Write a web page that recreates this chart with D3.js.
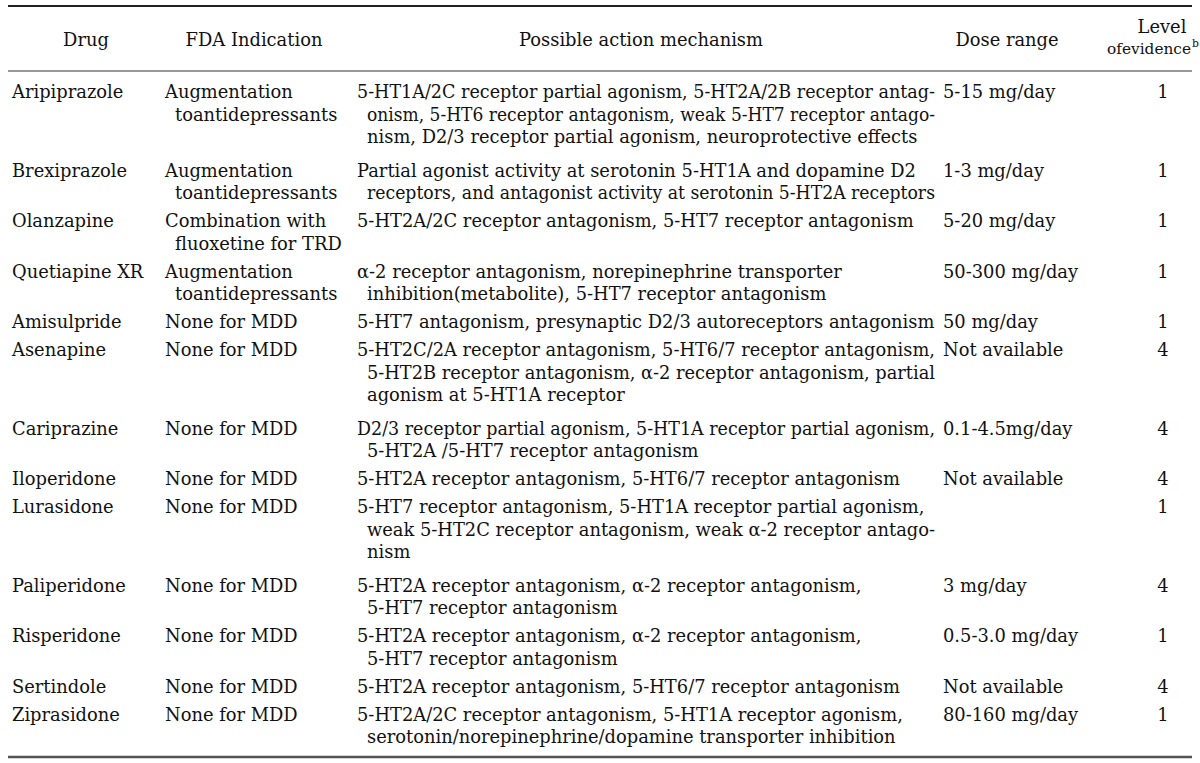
<!DOCTYPE html>
<html><head><meta charset="utf-8">
<script src="https://cdn.jsdelivr.net/npm/d3@7"></script>
<style>
html,body{margin:0;padding:0;background:#fff;}
svg text{font-family:"DejaVu Serif","Liberation Serif",serif;fill:#111;}
</style></head>
<body><svg id="c" width="1200" height="763"></svg>
<script>
const headers = ["Drug", "FDA Indication", "Possible action mechanism", "Dose range"];
const drugs = ["Aripiprazole","Brexiprazole","Olanzapine","Quetiapine XR","Amisulpride","Asenapine","Cariprazine","Iloperidone","Lurasidone","Paliperidone","Risperidone","Sertindole","Ziprasidone"];
const indications = [
  ["Augmentation","toantidepressants"],
  ["Augmentation","toantidepressants"],
  ["Combination with","fluoxetine for TRD"],
  ["Augmentation","toantidepressants"],
  ["None for MDD"],["None for MDD"],["None for MDD"],["None for MDD"],["None for MDD"],
  ["None for MDD"],["None for MDD"],["None for MDD"],["None for MDD"]
];
const mechanisms = [
  ["5-HT1A/2C receptor partial agonism, 5-HT2A/2B receptor antag-","onism, 5-HT6 receptor antagonism, weak 5-HT7 receptor antago-","nism, D2/3 receptor partial agonism, neuroprotective effects"],
  ["Partial agonist activity at serotonin 5-HT1A and dopamine D2","receptors, and antagonist activity at serotonin 5-HT2A receptors"],
  ["5-HT2A/2C receptor antagonism, 5-HT7 receptor antagonism"],
  ["\u03b1-2 receptor antagonism, norepinephrine transporter","inhibition(metabolite), 5-HT7 receptor antagonism"],
  ["5-HT7 antagonism, presynaptic D2/3 autoreceptors antagonism"],
  ["5-HT2C/2A receptor antagonism, 5-HT6/7 receptor antagonism,","5-HT2B receptor antagonism, \u03b1-2 receptor antagonism, partial","agonism at 5-HT1A receptor"],
  ["D2/3 receptor partial agonism, 5-HT1A receptor partial agonism,","5-HT2A /5-HT7 receptor antagonism"],
  ["5-HT2A receptor antagonism, 5-HT6/7 receptor antagonism"],
  ["5-HT7 receptor antagonism, 5-HT1A receptor partial agonism,","weak 5-HT2C receptor antagonism, weak \u03b1-2 receptor antago-","nism"],
  ["5-HT2A receptor antagonism, \u03b1-2 receptor antagonism,","5-HT7 receptor antagonism"],
  ["5-HT2A receptor antagonism, \u03b1-2 receptor antagonism,","5-HT7 receptor antagonism"],
  ["5-HT2A receptor antagonism, 5-HT6/7 receptor antagonism"],
  ["5-HT2A/2C receptor antagonism, 5-HT1A receptor agonism,","serotonin/norepinephrine/dopamine transporter inhibition"]
];
const doses = ["5-15 mg/day","1-3 mg/day","5-20 mg/day","50-300 mg/day","50 mg/day","Not available","0.1-4.5mg/day","Not available","","3 mg/day","0.5-3.0 mg/day","Not available","80-160 mg/day"];
const levels = [1,1,1,1,1,4,4,4,1,4,1,4,1];

const svg = d3.select("#c");

// font size calibrated so that a reference line spans the mechanism column width
const probe = svg.append("text").attr("font-size",16).text(mechanisms[4][0]);
const fs = 16 * 578 / probe.node().getComputedTextLength();
probe.remove();

// column layout
const colX = d3.scaleOrdinal().domain(["drug","ind","mech","dose","level"]).range([12,165,357,943,1163]);
const colRight = d3.scaleOrdinal().domain(["drug","ind","mech","dose","level"]).range([155,345,935,1085,1195]);
const hdrX = d3.scaleOrdinal().domain(headers).range([86,254,641,1007]);
const indent = 10;

// vertical layout: line units -> px
const lineH = 22.5, rowPad = 5.5;
const rows = drugs.map((d,i)=>({
  i, drug:d, ind:indications[i], mech:mechanisms[i], dose:doses[i], level:levels[i],
  n: Math.max(indications[i].length, mechanisms[i].length)
}));
let acc = 92;
rows.forEach(r=>{ r.y = acc; acc += r.n*lineH + rowPad + (r.n>=3?5.5:0); });
const lineY = (r,k)=> r.y + k*lineH;

// keep a text inside its column: compress if it would overflow
function fit(sel, col){
  sel.each(function(){
    const x = +this.getAttribute("x");
    const w = this.getComputedTextLength();
    const max = colRight(col) - x;
    if (w > max) d3.select(this).attr("textLength", max).attr("lengthAdjust","spacingAndGlyphs");
  });
}

// rules
svg.append("line").attr("x1",8).attr("x2",1192).attr("y1",6).attr("y2",6).attr("stroke","#222").attr("stroke-width",2);
svg.append("line").attr("x1",8).attr("x2",1192).attr("y1",71).attr("y2",71).attr("stroke","#333").attr("stroke-width",1.2);
svg.append("line").attr("x1",8).attr("x2",1192).attr("y1",757).attr("y2",757).attr("stroke","#555").attr("stroke-width",2.5);

// headers
svg.selectAll("text.h").data(headers).join("text").attr("class","h")
  .attr("x",d=>hdrX(d)).attr("y",40).attr("dy","0.35em").attr("text-anchor","middle")
  .attr("font-size",fs).text(d=>d);
svg.append("text").attr("x",1162).attr("y",27).attr("dy","0.35em").attr("text-anchor","middle").attr("font-size",fs).text("Level");
const ev = svg.append("text").attr("x",1107).attr("y",49).attr("dy","0.35em").attr("font-size",fs).text("ofevidence");
const evW = ev.node().getComputedTextLength();
ev.attr("font-size", fs * 84 / evW);
svg.append("text").attr("x",1192).attr("y",47).attr("font-size",fs*0.6).text("b");

const g = svg.selectAll("g.row").data(rows).join("g").attr("class","row");
g.append("text").attr("x",colX("drug")).attr("y",r=>lineY(r,0)).attr("dy","0.35em").attr("font-size",fs).text(r=>r.drug);
g.each(function(r){
  const sel = d3.select(this);
  sel.selectAll("text.ind").data(r.ind).join("text").attr("class","ind")
    .attr("x",(d,k)=>colX("ind") + (k>0?indent:0)).attr("y",(d,k)=>lineY(r,k)).attr("dy","0.35em").attr("font-size",fs).text(d=>d)
    .call(fit,"ind");
  sel.selectAll("text.mech").data(r.mech).join("text").attr("class","mech")
    .attr("x",(d,k)=>colX("mech") + (k>0?indent:0)).attr("y",(d,k)=>lineY(r,k)).attr("dy","0.35em").attr("font-size",fs).text(d=>d)
    .call(fit,"mech");
});
g.append("text").attr("x",colX("dose")).attr("y",r=>lineY(r,0)).attr("dy","0.35em").attr("font-size",fs).text(r=>r.dose);
g.append("text").attr("x",colX("level")).attr("y",r=>lineY(r,0)).attr("dy","0.35em").attr("text-anchor","middle").attr("font-size",fs).text(r=>r.level);
</script></body></html>
